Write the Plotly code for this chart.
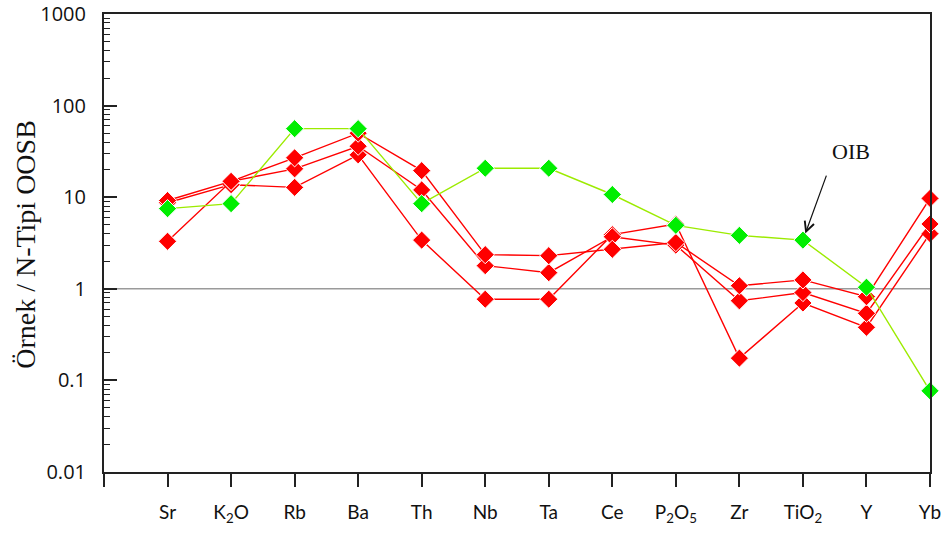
import plotly.graph_objects as go
import math

# ---- data ----
elements = ["Sr", "K<sub>2</sub>O", "Rb", "Ba", "Th", "Nb", "Ta", "Ce",
            "P<sub>2</sub>O<sub>5</sub>", "Zr", "TiO<sub>2</sub>", "Y", "Yb"]
x_pos = list(range(1, 14))

sample_a = [9.2, 14.9, 26.9, 50, 19.5, 2.36, 2.3, 2.7, 3.2, 1.08, 1.25, 0.82, 9.7]
sample_b = [3.3, 14.9, 20.4, 36, 12.0, 1.79, 1.5, 3.7, 3.0, 0.74, 0.91, 0.54, 5.1]
sample_c = [8.7, 13.7, 12.8, 29, 3.4, 0.77, 0.77, 3.9, 5.1, 0.175, 0.70, 0.38, 4.0]
oib = [7.5, 8.5, 56, 56, 8.5, 20.7, 20.7, 10.7, 4.93, 3.83, 3.4, 1.04, 0.077]

ref_x = [0, 13]
ref_y = [1, 1]

ytick_vals = [0.01, 0.1, 1, 10, 100, 1000]
ytick_text = ["0.01", "0.1", "1", "10", "100", "1000"]

RED = "#FF0000"
GREEN_MK = "#00EE00"
GREEN_LN = "#9CEB00"

fig = go.Figure()

# reference line at 1
fig.add_trace(go.Scatter(x=ref_x, y=ref_y, mode="lines",
                         line=dict(color="#9a9a9a", width=1.5),
                         hoverinfo="skip", showlegend=False))

for s in (sample_c, sample_b, sample_a):
    fig.add_trace(go.Scatter(
        x=x_pos, y=s, mode="lines+markers",
        line=dict(color=RED, width=1.4),
        marker=dict(symbol="diamond", size=14, color=RED,
                    line=dict(color="white", width=1)),
        cliponaxis=False, showlegend=False))

fig.add_trace(go.Scatter(
    x=x_pos, y=oib, mode="lines+markers",
    line=dict(color=GREEN_LN, width=1.4),
    marker=dict(symbol="diamond", size=14, color=GREEN_MK,
                line=dict(color="white", width=1)),
    cliponaxis=False, showlegend=False))

minor_vals = [m * 10 ** e for e in range(-2, 3) for m in range(2, 10)]

fig.update_layout(
    width=942, height=533,
    margin=dict(l=104, r=12, t=14, b=61, autoexpand=False),
    paper_bgcolor="white", plot_bgcolor="white",
    showlegend=False,
    xaxis=dict(
        range=[0, 13], tickmode="array", automargin=False,
        tickvals=[0] + x_pos, ticktext=[""] + elements,
        ticks="outside", ticklen=13, tickwidth=1.5, tickcolor="#222",
        showline=True, linecolor="#222", linewidth=2, mirror=True,
        showgrid=False, zeroline=False,
        tickfont=dict(family="Lato, Open Sans, sans-serif", size=19, color="#111"),
        ticklabelstandoff=9,
    ),
    yaxis=dict(
        type="log", range=[-2, 3], tickmode="array", automargin=False,
        tickvals=ytick_vals, ticktext=ytick_text,
        ticks="inside", ticklen=13, tickwidth=1.5, tickcolor="#222",
        minor=dict(tickmode="array", tickvals=minor_vals, ticks="inside",
                   ticklen=6, tickwidth=1.2, tickcolor="#222", showgrid=False),
        showline=True, linecolor="#222", linewidth=2, mirror=True,
        showgrid=False, zeroline=False,
        tickfont=dict(family="Open Sans, sans-serif", size=20, color="#111"),
        ticklabelstandoff=12,
    ),
    annotations=[
        dict(text="Örnek / N-Tipi OOSB", textangle=-90,
             xref="paper", yref="paper", x=(26 - 104) / 826, y=0.496,
             xanchor="center", yanchor="middle", showarrow=False,
             font=dict(family="Liberation Serif, Times New Roman, serif", size=28, color="#111")),
        dict(text="OIB", xref="x", yref="y", x=11.75, y=1.50,
             showarrow=False, xanchor="center", yanchor="middle",
             font=dict(family="Liberation Serif, Times New Roman, serif", size=22, color="#111")),
        dict(text="", xref="x", yref="y", x=11, y=math.log10(oib[10]),
             showarrow=True, ax=24, ay=-66, axref="pixel", ayref="pixel",
             arrowhead=5, arrowsize=1.6, arrowwidth=1.2, arrowcolor="#111",
             standoff=7),
    ],
)

fig.write_html("out.html")
